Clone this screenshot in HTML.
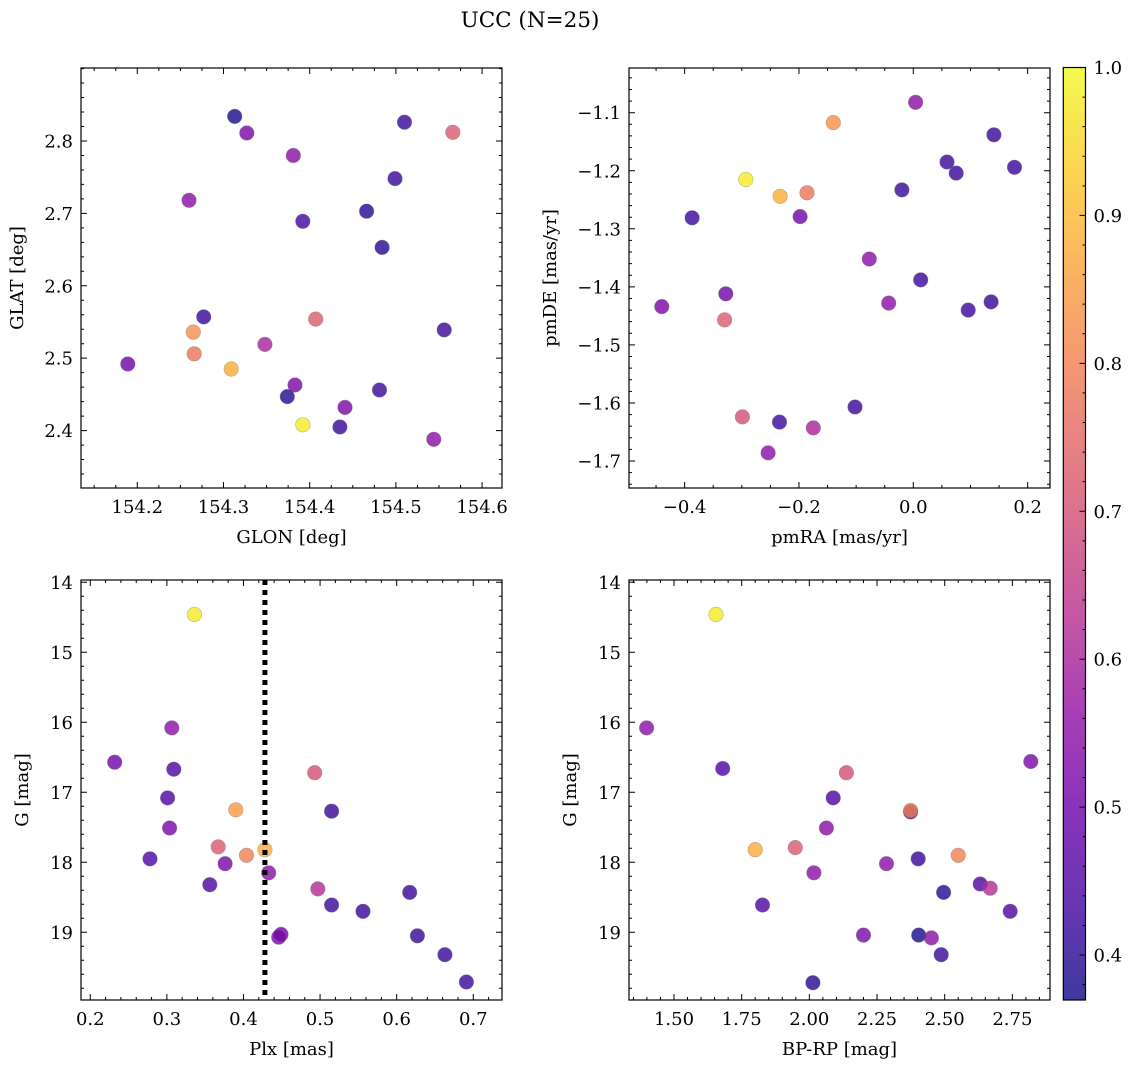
<!DOCTYPE html>
<html><head><meta charset="utf-8"><style>
html,body{margin:0;padding:0;background:#fff;}
svg{display:block;font-family:"DejaVu Serif","Liberation Serif",serif;}
</style></head><body>
<svg id="fig" width="1136" height="1067" viewBox="0 0 1136 1067" xmlns="http://www.w3.org/2000/svg">
<defs>
<linearGradient id="plasmaGrad" x1="0" y1="1" x2="0" y2="0">
<stop offset="0" stop-color="#0d0887"/><stop offset="0.1" stop-color="#41049d"/><stop offset="0.2" stop-color="#6a00a8"/><stop offset="0.3" stop-color="#8f0da4"/><stop offset="0.4" stop-color="#b12a90"/><stop offset="0.5" stop-color="#cc4778"/><stop offset="0.6" stop-color="#e16462"/><stop offset="0.7" stop-color="#f2844b"/><stop offset="0.8" stop-color="#fca636"/><stop offset="0.9" stop-color="#fcce25"/><stop offset="1" stop-color="#f0f921"/>
</linearGradient>
</defs>
<text x="530" y="27" font-size="21.5" text-anchor="middle">UCC (N=25)</text>
</svg>
<script>
// ---- data ----
const glon = [154.313,154.327,154.510,154.566,154.381,154.499,154.260,154.392,154.466,154.484,154.277,154.407,154.265,154.556,154.348,154.189,154.266,154.309,154.383,154.481,154.374,154.441,154.392,154.435,154.544];
const glat = [2.834,2.811,2.826,2.812,2.780,2.748,2.718,2.689,2.703,2.653,2.557,2.554,2.536,2.539,2.519,2.492,2.506,2.485,2.463,2.456,2.447,2.432,2.408,2.405,2.388];
const probPos = [0.38,0.52,0.42,0.72,0.55,0.42,0.55,0.43,0.40,0.40,0.42,0.73,0.83,0.42,0.60,0.50,0.78,0.88,0.52,0.42,0.40,0.52,0.98,0.42,0.55];

const pmra = [0.004,-0.140,0.141,0.059,0.075,0.177,-0.293,-0.233,-0.186,-0.020,-0.387,-0.198,-0.077,0.013,-0.328,-0.043,0.136,0.096,-0.440,-0.330,-0.102,-0.299,-0.234,-0.175,-0.254];
const pmde = [-1.082,-1.117,-1.138,-1.185,-1.204,-1.194,-1.215,-1.244,-1.238,-1.233,-1.281,-1.279,-1.352,-1.388,-1.412,-1.428,-1.426,-1.440,-1.434,-1.457,-1.607,-1.624,-1.633,-1.643,-1.686];
const probPm = [0.55,0.83,0.42,0.42,0.42,0.42,0.98,0.88,0.78,0.42,0.42,0.50,0.55,0.42,0.50,0.55,0.42,0.42,0.52,0.72,0.42,0.70,0.42,0.60,0.55];

const plx = [0.3065,0.2319,0.309,0.301,0.3035,0.278,0.356,0.390,0.367,0.404,0.376,0.428,0.433,0.493,0.515,0.497,0.515,0.556,0.617,0.627,0.663,0.691,0.449,0.446,0.336];
const gPlx = [16.08,16.57,16.67,17.08,17.51,17.95,18.32,17.25,17.78,17.90,18.02,17.82,18.15,16.72,17.27,18.38,18.61,18.70,18.43,19.05,19.32,19.71,19.03,19.07,14.46];
const probPlx = [0.55,0.50,0.45,0.45,0.52,0.45,0.45,0.85,0.72,0.80,0.52,0.88,0.55,0.70,0.42,0.62,0.42,0.42,0.42,0.42,0.42,0.42,0.50,0.52,0.98];
const plxLine = 0.428;

const bprp = [1.399,1.680,2.137,2.088,2.374,2.374,2.063,1.800,1.948,2.017,1.827,2.285,2.402,2.550,2.496,2.631,2.668,2.742,2.818,2.200,2.404,2.451,2.487,2.013,1.655];
const gCol = [16.08,16.66,16.72,17.08,17.28,17.26,17.51,17.82,17.79,18.15,18.61,18.02,17.95,17.90,18.43,18.31,18.37,18.70,16.56,19.04,19.04,19.08,19.32,19.72,14.46];
const probCol = [0.55,0.45,0.70,0.45,0.42,0.80,0.55,0.88,0.72,0.55,0.45,0.55,0.42,0.80,0.40,0.45,0.62,0.45,0.52,0.52,0.38,0.55,0.42,0.40,0.98];

const tlXTicks = [154.2,154.3,154.4,154.5,154.6];
const tlXLabels = ["154.2","154.3","154.4","154.5","154.6"];
const tlYTicks = [2.4,2.5,2.6,2.7,2.8];
const tlYLabels = ["2.4","2.5","2.6","2.7","2.8"];
const trXTicks = [-0.4,-0.2,0.0,0.2];
const trXLabels = ["\u22120.4","\u22120.2","0.0","0.2"];
const trYTicks = [-1.1,-1.2,-1.3,-1.4,-1.5,-1.6,-1.7];
const trYLabels = ["\u22121.1","\u22121.2","\u22121.3","\u22121.4","\u22121.5","\u22121.6","\u22121.7"];
const blXTicks = [0.2,0.3,0.4,0.5,0.6,0.7];
const blXLabels = ["0.2","0.3","0.4","0.5","0.6","0.7"];
const gTicks = [14,15,16,17,18,19];
const gLabels = ["14","15","16","17","18","19"];
const brXTicks = [1.5,1.75,2.0,2.25,2.5,2.75];
const brXLabels = ["1.50","1.75","2.00","2.25","2.50","2.75"];
const cbTicks = [0.4,0.5,0.6,0.7,0.8,0.9,1.0];
const cbLabels = ["0.4","0.5","0.6","0.7","0.8","0.9","1.0"];
const cbRange = [0.3696,1.0];

// ---- helpers ----
const NS = "http://www.w3.org/2000/svg";
const svg = document.getElementById('fig');
const FS = 18;
function mk(tag, attrs, parent){const e=document.createElementNS(NS,tag);for(const k in attrs)e.setAttribute(k,attrs[k]);(parent||svg).appendChild(e);return e;}
const stops=[[13,8,135],[65,4,157],[106,0,168],[143,13,164],[177,42,144],[204,71,120],[225,100,98],[242,132,75],[252,166,54],[252,206,37],[240,249,33]];
function plasma(v){let t=(v-cbRange[0])/(cbRange[1]-cbRange[0]);t=Math.max(0,Math.min(1,t));const f=t*10;const i=Math.min(9,Math.floor(f));const r=f-i;const a=stops[i],b=stops[i+1];return 'rgb('+[0,1,2].map(k=>Math.round(a[k]+(b[k]-a[k])*r)).join(',')+')';}
function lin(d0,d1,r0,r1){return v=>r0+(v-d0)/(d1-d0)*(r1-r0);}
function minorList(a,b,step){const out=[];const s=Math.ceil(a/step-1e-6);for(let k=s;k*step<=b+1e-9;k++)out.push(+(k*step).toFixed(6));return out;}

function panel(cfg){
  const [x0,y0,x1,y1]=cfg.box;
  const xs=lin(cfg.xd[0],cfg.xd[1],x0,x1), ys=lin(cfg.yd[0],cfg.yd[1],y0,y1);
  const g=mk('g',{});
  
  
  const pg=mk('g',{},g);
  
  
  for(let i=0;i<cfg.xv.length;i++){
    const c=mk('circle',{cx:xs(cfg.xv[i]).toFixed(1),cy:ys(cfg.yv[i]).toFixed(1),r:7.3,fill:plasma(cfg.pv[i]),'fill-opacity':0.8,stroke:'#777','stroke-opacity':0.5,'stroke-width':0.6},pg);
    
    
  }
  if(cfg.vline!==undefined){
    const l=mk('line',{x1:xs(cfg.vline),x2:xs(cfg.vline),y1:y0,y2:y1,stroke:'#000','stroke-width':5,'stroke-dasharray':'5,5'},g);
    
    
  }
  const fr=mk('rect',{x:x0,y:y0,width:x1-x0,height:y1-y0,fill:'none',stroke:'#000','stroke-width':1.2},g);
  
  
  let d='';
  cfg.xt.forEach(v=>{const x=xs(v);d+=`M${x},${y1}v-6M${x},${y0}v6`;});
  minorList(Math.min(...cfg.xd),Math.max(...cfg.xd),cfg.xm).forEach(v=>{const x=xs(v);if(x>x0+0.5&&x<x1-0.5)d+=`M${x},${y1}v-3M${x},${y0}v3`;});
  cfg.yt.forEach(v=>{const y=ys(v);d+=`M${x0},${y}h6M${x1},${y}h-6`;});
  minorList(Math.min(...cfg.yd),Math.max(...cfg.yd),cfg.ym).forEach(v=>{const y=ys(v);if(y>y0+0.5&&y<y1-0.5)d+=`M${x0},${y}h3M${x1},${y}h-3`;});
  const tk=mk('path',{d:d,stroke:'#000','stroke-width':1,fill:'none'},g);
  
  
  cfg.xt.forEach((v,i)=>{const t=mk('text',{x:xs(v),y:y1+25,'font-size':FS,'text-anchor':'middle'},g);t.textContent=cfg.xl[i];
    
    });
  cfg.yt.forEach((v,i)=>{const t=mk('text',{x:x0-8,y:ys(v)+6.5,'font-size':FS,'text-anchor':'end'},g);t.textContent=cfg.yl[i];
    
    });
  const xt=mk('text',{x:(x0+x1)/2,y:y1+55,'font-size':FS,'text-anchor':'middle'},g);xt.textContent=cfg.xtitle;
  
  
  const yx=cfg.ytx, yc=(y0+y1)/2;
  const yt=mk('text',{x:yx,y:yc,'font-size':FS,'text-anchor':'middle',transform:`rotate(-90 ${yx} ${yc})`},g);yt.textContent=cfg.ytitle;
  
  
}

panel({name:'glon-glat-panel',box:[81,68,502,488],xd:[154.1347,154.6231],yd:[2.9008,2.3207],xv:glon,yv:glat,pv:probPos,xt:tlXTicks,xl:tlXLabels,xm:0.025,yt:tlYTicks,yl:tlYLabels,ym:0.02,xtitle:'GLON [deg]',ytitle:'GLAT [deg]',ytx:23});
panel({name:'pm-panel',box:[629,68,1050,488],xd:[-0.4973,0.2391],yd:[-1.023,-1.7465],xv:pmra,yv:pmde,pv:probPm,xt:trXTicks,xl:trXLabels,xm:0.05,yt:trYTicks,yl:trYLabels,ym:0.02,xtitle:'pmRA [mas/yr]',ytitle:'pmDE [mas/yr]',ytx:556});
panel({name:'plx-g-panel',box:[81,580,502,1000],xd:[0.1879,0.7375],yd:[13.967,19.967],xv:plx,yv:gPlx,pv:probPlx,xt:blXTicks,xl:blXLabels,xm:0.02,yt:gTicks,yl:gLabels,ym:0.2,xtitle:'Plx [mas]',ytitle:'G [mag]',ytx:28,vline:plxLine});
panel({name:'cmd-panel',box:[629,580,1050,1000],xd:[1.3338,2.889],yd:[13.967,19.967],xv:bprp,yv:gCol,pv:probCol,xt:brXTicks,xl:brXLabels,xm:0.05,yt:gTicks,yl:gLabels,ym:0.2,xtitle:'BP-RP [mag]',ytitle:'G [mag]',ytx:576});

(function(){
  const x0=1063.3,x1=1085.5,y0=67.5,y1=1000;
  const ys=lin(cbRange[0],cbRange[1],y1,y0);
  const g=mk('g',{});
  
  
  const r=mk('rect',{x:x0,y:y0,width:x1-x0,height:y1-y0,fill:'url(#plasmaGrad)','fill-opacity':0.8,stroke:'#000','stroke-width':1.2},g);
  
  
  let d='';
  cbTicks.forEach(v=>{d+=`M${x1},${ys(v)}h-6`;});
  minorList(cbRange[0],cbRange[1],0.02).forEach(v=>{const y=ys(v);if(y>y0+1&&y<y1-1)d+=`M${x1},${y}h-3`;});
  const tk=mk('path',{d:d,stroke:'#000','stroke-width':1},g);
  
  
  cbTicks.forEach((v,i)=>{const t=mk('text',{x:x1+8,y:ys(v)+6.5,'font-size':FS},g);t.textContent=cbLabels[i];
    
    });
})();
</script>
</body></html>
